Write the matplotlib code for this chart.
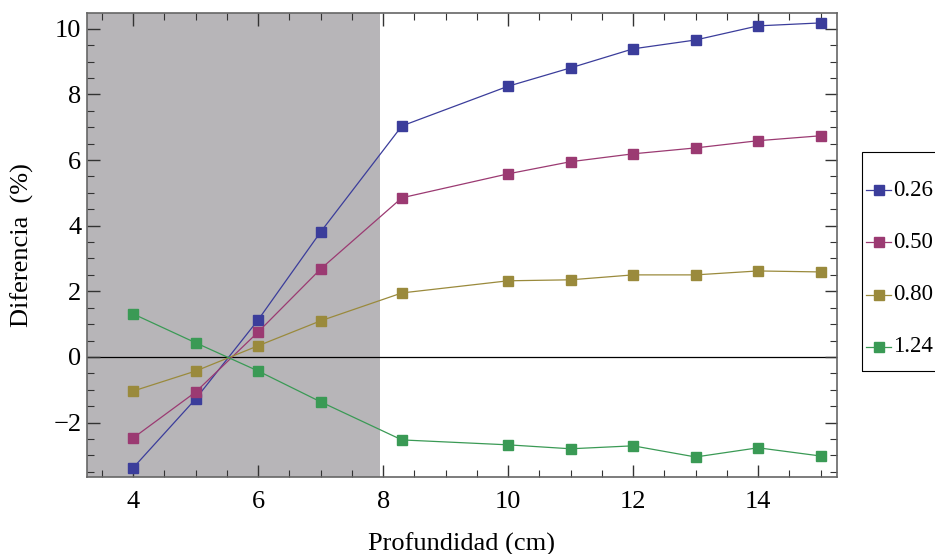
import numpy as np
import matplotlib
matplotlib.use("Agg")
import matplotlib.pyplot as plt
from matplotlib.ticker import MultipleLocator
from matplotlib.lines import Line2D
from matplotlib.patches import Rectangle

# datos
profundidad = [4, 5, 6, 7, 8.3, 10, 11, 12, 13, 14, 15]
etiquetas = ["0.26", "0.50", "0.80", "1.24"]
d026 = [-3.38, -1.28, 1.13, 3.81, 7.04, 8.25, 8.81, 9.39, 9.66, 10.09, 10.18]
d050 = [-2.47, -1.07, 0.76, 2.68, 4.85, 5.58, 5.95, 6.19, 6.37, 6.59, 6.74]
d080 = [-1.04, -0.43, 0.34, 1.10, 1.95, 2.32, 2.35, 2.50, 2.50, 2.62, 2.59]
d124 = [1.31, 0.43, -0.43, -1.37, -2.53, -2.68, -2.80, -2.71, -3.05, -2.77, -3.02]
series = [d026, d050, d080, d124]
colores = ["#3b3d9b", "#9b3a72", "#9a8a3c", "#3a9a55"]
zona_sombra = (3.26, 7.95)

plt.rcParams['font.family'] = 'Liberation Serif'

W, H = 935, 554
fig = plt.figure(figsize=(W / 100, H / 100), dpi=100)
ax = fig.add_axes([0.093, 0.139, 0.802, 0.838])

ax.axvspan(zona_sombra[0], zona_sombra[1], color="#b7b5b8", lw=0, zorder=0)
ax.axhline(0, color="black", lw=0.9, zorder=1)

for y, c, lab in zip(series, colores, etiquetas):
    ax.plot(profundidad, y, color=c, lw=0.9, marker="s", ms=7,
            mec=c, mfc=c, label=lab, zorder=3)

ax.set_xlim(3.26, 15.26)
ax.set_ylim(-3.66, 10.49)
ax.xaxis.set_major_locator(MultipleLocator(2))
ax.xaxis.set_minor_locator(MultipleLocator(0.5))
ax.yaxis.set_major_locator(MultipleLocator(2))
ax.yaxis.set_minor_locator(MultipleLocator(0.5))
ax.tick_params(which="both", direction="in", top=True, right=True,
               labelsize=19, color="#333333")
ax.tick_params(which="major", length=9, width=1.0)
ax.tick_params(axis="x", which="major", pad=10)
ax.tick_params(axis="y", which="major", pad=4)
ax.tick_params(which="minor", length=5, width=0.8)
for s in ax.spines.values():
    s.set_color("#666666")
    s.set_linewidth(1.2)

ax.set_xlabel("Profundidad (cm)", fontsize=19, labelpad=14)
ax.set_ylabel("Diferencia  (%)", fontsize=19, labelpad=14)

# leyenda a la derecha, cortada por el borde como en el original
fig.add_artist(Rectangle((862 / W, 1 - 371 / H), 0.2, 219 / H, transform=fig.transFigure,
                         fill=False, ec="black", lw=0.8))
for i, (c, lab) in enumerate(zip(colores, etiquetas)):
    yy = 1 - (190 + 52.3 * i) / H
    fig.add_artist(Line2D([866 / W, 891 / W], [yy, yy], transform=fig.transFigure,
                          color=c, lw=0.9))
    fig.add_artist(Line2D([878.5 / W], [yy], transform=fig.transFigure,
                          color=c, marker="s", ms=6.5, mfc=c, mec=c))
    fig.text(893 / W, yy, lab, fontsize=16.5, va="center", ha="left")

fig.savefig("out.png", dpi=100)
